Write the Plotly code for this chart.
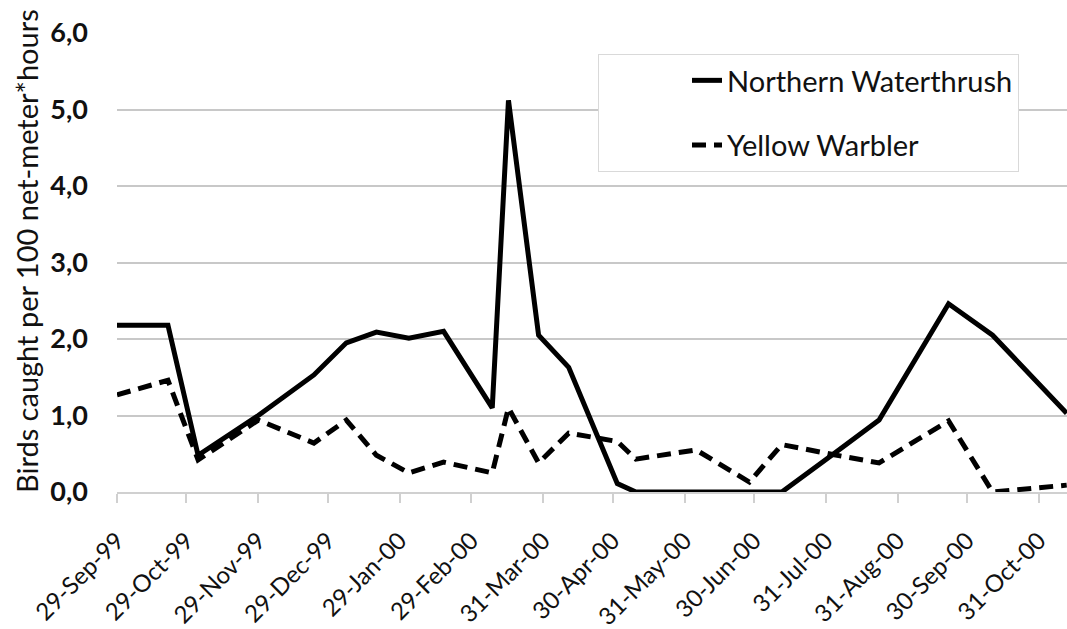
import plotly.graph_objects as go

# ---- data ----
dates = ["1999-09-29", "1999-10-21", "1999-11-03", "1999-11-29", "1999-12-23",
         "2000-01-06", "2000-01-19", "2000-02-02", "2000-02-17", "2000-03-09",
         "2000-03-16", "2000-03-29", "2000-04-11", "2000-05-02", "2000-05-10",
         "2000-06-05", "2000-06-28", "2000-07-12", "2000-08-03", "2000-08-23",
         "2000-09-22", "2000-10-11", "2000-11-12"]

northern_waterthrush = [2.18, 2.18, 0.48, 1.00, 1.53, 1.95, 2.09, 2.01, 2.10, 1.10,
                        5.12, 2.05, 1.63, 0.11, 0.00, 0.00, 0.00, 0.00, 0.49, 0.94,
                        2.46, 2.05, 1.03]

yellow_warbler = [1.27, 1.46, 0.42, 0.94, 0.64, 0.94, 0.48, 0.25, 0.39, 0.25,
                  1.10, 0.38, 0.77, 0.66, 0.43, 0.55, 0.13, 0.62, 0.49, 0.38,
                  0.93, 0.00, 0.09]

tick_dates = ["1999-09-29", "1999-10-29", "1999-11-29", "1999-12-29", "2000-01-29",
              "2000-02-29", "2000-03-31", "2000-04-30", "2000-05-31", "2000-06-30",
              "2000-07-31", "2000-08-31", "2000-09-30", "2000-10-31"]
tick_labels = ["29-Sep-99", "29-Oct-99", "29-Nov-99", "29-Dec-99", "29-Jan-00",
               "29-Feb-00", "31-Mar-00", "30-Apr-00", "31-May-00", "30-Jun-00",
               "31-Jul-00", "31-Aug-00", "30-Sep-00", "31-Oct-00"]

y_title = "Birds caught per 100 net-meter*hours"

FONT = "Lato, 'Open Sans', sans-serif"

fig = go.Figure()
fig.add_trace(go.Scatter(
    x=dates, y=northern_waterthrush, mode="lines", name="Northern Waterthrush",
    legendgroup="a",
    line=dict(color="black", width=5)))
fig.add_trace(go.Scatter(
    x=dates, y=yellow_warbler, mode="lines", name="Yellow Warbler",
    legendgroup="b",
    line=dict(color="black", width=5, dash="14px,8px")))

fig.update_layout(
    width=1067, height=629,
    margin=dict(l=117, r=0, t=33, b=137),
    paper_bgcolor="white", plot_bgcolor="white",
    separators=", ",
    font=dict(family=FONT, color="black"),
    showlegend=True,
    legend=dict(
        x=(598 - 117) / 950, y=(492 - 54) / 459, xanchor="left", yanchor="top",
        bgcolor="white", bordercolor="#d9d9d9", borderwidth=1,
        font=dict(size=29, family=FONT, color="#111111"),
        traceorder="grouped", tracegroupgap=24,
        indentation=88,
    ),
    xaxis=dict(
        type="date", automargin=False,
        range=["1999-09-29", "2000-11-12 03:00"],
        tickmode="array", tickvals=tick_dates, ticktext=tick_labels,
        tickangle=-45,
        tickfont=dict(size=24, family=FONT, color="#111111"),
        ticklabelstandoff=14,
        showgrid=False, zeroline=False,
        showline=True, linecolor="#d0d0d0", linewidth=2,
        ticks="outside", ticklen=9, tickwidth=2, tickcolor="#d0d0d0",
    ),
    yaxis=dict(
        range=[0, 6], dtick=1, tick0=0, automargin=False,
        tickformat=".1f",
        tickfont=dict(size=27, family=FONT, color="#111111", weight="bold"),
        showgrid=True, gridcolor="#c8c8c8", gridwidth=2,
        zeroline=False, showline=False,
        ticks="", ticklabelstandoff=28,
    ),
    annotations=[dict(
        text=y_title, textangle=-90, showarrow=False,
        xref="paper", yref="paper",
        x=(26 - 117) / 950, y=(492 - 251) / 459,
        xanchor="center", yanchor="middle",
        font=dict(size=29, family=FONT, color="#111111"),
    )],
)

# remove the default page margin so the 1067x629 figure fills the window exactly
fig.write_html(
    "out.html",
    config={"displayModeBar": False},
    post_script="document.body.style.margin='0';document.body.style.overflow='hidden';",
)
